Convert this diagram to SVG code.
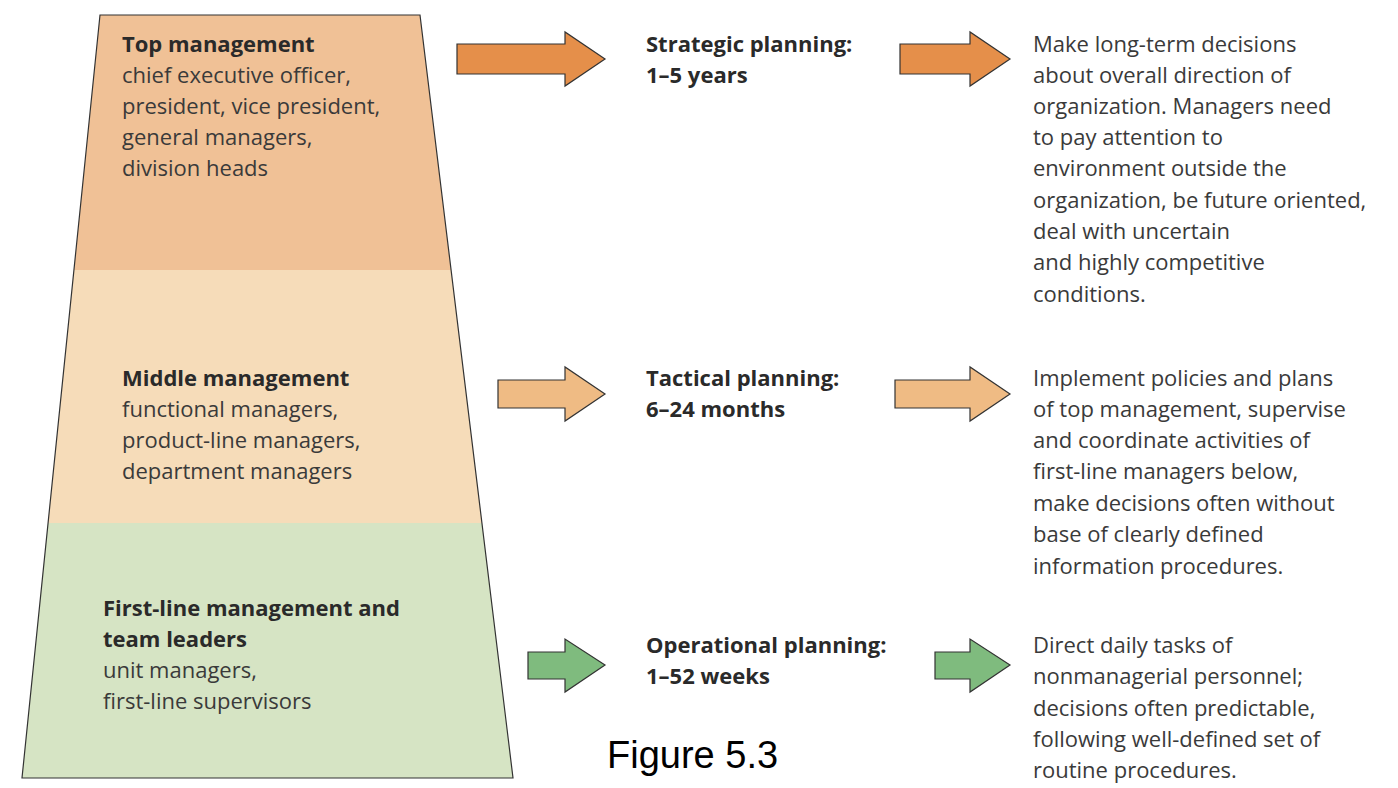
<svg xmlns="http://www.w3.org/2000/svg" width="1398" height="788" viewBox="0 0 1398 788">
<style>
text{font-family:"Open Sans","Liberation Sans",sans-serif;font-size:22px;fill:#3a3a3a}
.b{font-weight:bold;fill:#2a2a2a}
.arr{stroke:#333;stroke-width:1.2}
</style>
<rect width="1398" height="788" fill="#fff"/>
<g id="top-level">
<polygon points="100,15 420,15 451,270 74,270" fill="#f0c196"/>
<text x="122" y="52" class="b">Top management</text>
<text x="122" y="83">chief executive officer,</text>
<text x="122" y="114">president, vice president,</text>
<text x="122" y="145">general managers,</text>
<text x="122" y="176">division heads</text>
</g>
<g id="middle-level">
<polygon points="74,270 451,270 482,523 48,523" fill="#f6dcb9"/>
<text x="122" y="386" class="b">Middle management</text>
<text x="122" y="417">functional managers,</text>
<text x="122" y="448">product-line managers,</text>
<text x="122" y="479">department managers</text>
</g>
<g id="first-level">
<polygon points="48,523 482,523 513,778 22,778" fill="#d6e4c4"/>
<text x="103" y="616" class="b">First-line management and</text>
<text x="103" y="647" class="b">team leaders</text>
<text x="103" y="678">unit managers,</text>
<text x="103" y="709">first-line supervisors</text>
</g>
<polygon points="100,15 420,15 513,778 22,778" fill="none" stroke="#333" stroke-width="1.2"/>
<g id="connectors">
<polygon class="arr" fill="#e58f4a" points="457,44 565,44 565,32 605,59 565,86 565,74 457,74"/>
<polygon class="arr" fill="#e58f4a" points="900,44 970,44 970,32 1010,59 970,86 970,74 900,74"/>
<polygon class="arr" fill="#efbb84" points="498,380 565,380 565,367 605,394 565,421 565,408 498,408"/>
<polygon class="arr" fill="#efbb84" points="895,380 970,380 970,367 1010,394 970,421 970,408 895,408"/>
<polygon class="arr" fill="#7fbb7e" points="528,652 565,652 565,639 605,665 565,692 565,679 528,679"/>
<polygon class="arr" fill="#7fbb7e" points="935,652 970,652 970,639 1010,665 970,692 970,679 935,679"/>
</g>
<g id="strategic">
<text x="646" y="52" class="b">Strategic planning:</text>
<text x="646" y="83" class="b">1–5 years</text>
</g>
<g id="tactical">
<text x="646" y="386" class="b">Tactical planning:</text>
<text x="646" y="417" class="b">6–24 months</text>
</g>
<g id="operational">
<text x="646" y="653" class="b">Operational planning:</text>
<text x="646" y="684" class="b">1–52 weeks</text>
</g>
<g id="strategic-desc">
<text x="1033" y="52">Make long-term decisions</text>
<text x="1033" y="83">about overall direction of</text>
<text x="1033" y="114">organization. Managers need</text>
<text x="1033" y="145">to pay attention to</text>
<text x="1033" y="176">environment outside the</text>
<text x="1033" y="208">organization, be future oriented,</text>
<text x="1033" y="239">deal with uncertain</text>
<text x="1033" y="270">and highly competitive</text>
<text x="1033" y="302">conditions.</text>
</g>
<g id="tactical-desc">
<text x="1033" y="386">Implement policies and plans</text>
<text x="1033" y="417">of top management, supervise</text>
<text x="1033" y="448">and coordinate activities of</text>
<text x="1033" y="479">first-line managers below,</text>
<text x="1033" y="511">make decisions often without</text>
<text x="1033" y="542">base of clearly defined</text>
<text x="1033" y="574">information procedures.</text>
</g>
<g id="operational-desc">
<text x="1033" y="653">Direct daily tasks of</text>
<text x="1033" y="684">nonmanagerial personnel;</text>
<text x="1033" y="716">decisions often predictable,</text>
<text x="1033" y="747">following well-defined set of</text>
<text x="1033" y="778">routine procedures.</text>
</g>
<text x="607" y="768" style="font-family:'Liberation Sans',Arial,sans-serif;font-size:38px;fill:#000">Figure 5.3</text>
</svg>
